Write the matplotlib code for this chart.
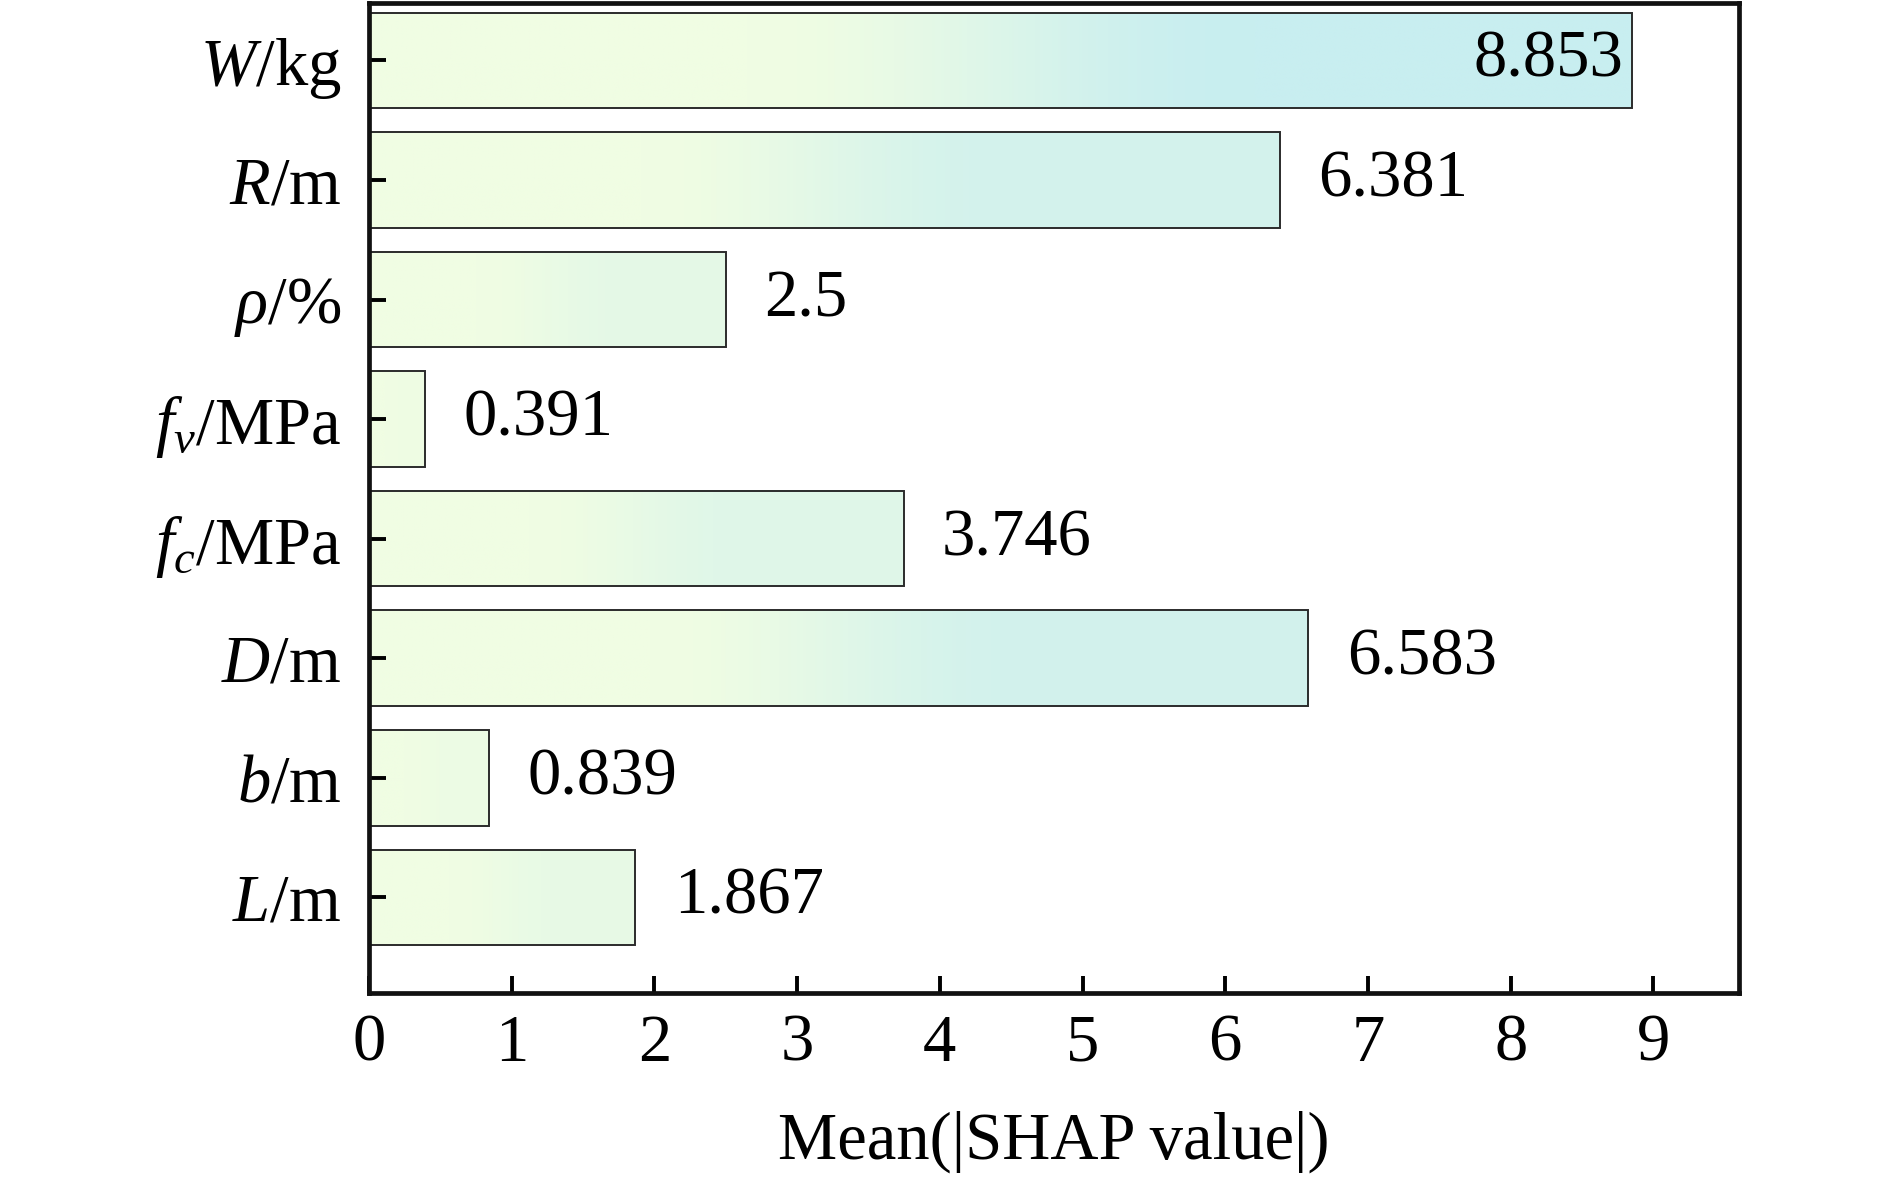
import numpy as np
import matplotlib
matplotlib.use("Agg")
import matplotlib.pyplot as plt
from matplotlib.colors import to_rgb

# data, top to bottom as drawn
features = [r"$W$/kg", r"$R$/m", r"$\rho$/%", r"$f_v$/MPa", r"$f_c$/MPa",
            r"$D$/m", r"$b$/m", r"$L$/m"]
shap_vals = [8.853, 6.381, 2.5, 0.391, 3.746, 6.583, 0.839, 1.867]
val_labels = ["8.853", "6.381", "2.5", "0.391", "3.746", "6.583", "0.839", "1.867"]
xticks = [0, 1, 2, 3, 4, 5, 6, 7, 8, 9]

plt.rcParams["font.family"] = ["Liberation Serif", "DejaVu Serif"]
plt.rcParams["mathtext.fontset"] = "custom"
plt.rcParams["mathtext.rm"] = "Liberation Serif"
plt.rcParams["mathtext.it"] = "Liberation Serif:italic"
plt.rcParams["mathtext.bf"] = "Liberation Serif:bold"

PALE = np.array(to_rgb("#F0FDE3"))
CYAN = np.array(to_rgb("#C8EEF0"))


def bar_gradient(frac_end):
    f = np.linspace(0, 1, 256)
    s = np.clip((f - 0.3) / 0.4, 0, 1)
    s = s * s * (3 - 2 * s)
    t = (s * frac_end)[:, None]
    row = PALE * (1 - t) + CYAN * t
    return row[None, :, :]


fig = plt.figure(figsize=(18.9, 11.85), dpi=100)
ax = fig.add_axes([0.1952, 0.162, 0.7249, 0.8355])

n = len(features)
ypos = np.arange(n)[::-1]
h = 0.8
vmax = max(shap_vals)

for y, v in zip(ypos, shap_vals):
    ax.imshow(bar_gradient(v / vmax), extent=(0, v, y - h / 2, y + h / 2),
              aspect="auto", interpolation="bilinear", zorder=1)
ax.barh(ypos, shap_vals, height=h, fill=False, edgecolor="#2b2b2b",
        linewidth=1.4, zorder=2)

for y, v, lab in zip(ypos, shap_vals, val_labels):
    if v == vmax:
        ax.text(v - 0.06, y, lab, ha="right", va="center", fontsize=48, zorder=3)
    else:
        ax.text(v + 0.27, y, lab, ha="left", va="center", fontsize=48, zorder=3)

ax.set_xlim(0, 9.6)
ax.set_ylim(-0.8, 7.48)
ax.set_xticks(xticks)
ax.set_yticks(ypos)
ax.set_yticklabels(features)
ax.tick_params(axis="both", direction="in", length=12, width=2.8,
               labelsize=48, pad=20)
ax.tick_params(axis="x", pad=15)
ax.set_xlabel("Mean(|SHAP value|)", fontsize=48, labelpad=26)

for sp in ax.spines.values():
    sp.set_linewidth(3.4)
    sp.set_color("#111111")

fig.savefig("out.png", dpi=100)
